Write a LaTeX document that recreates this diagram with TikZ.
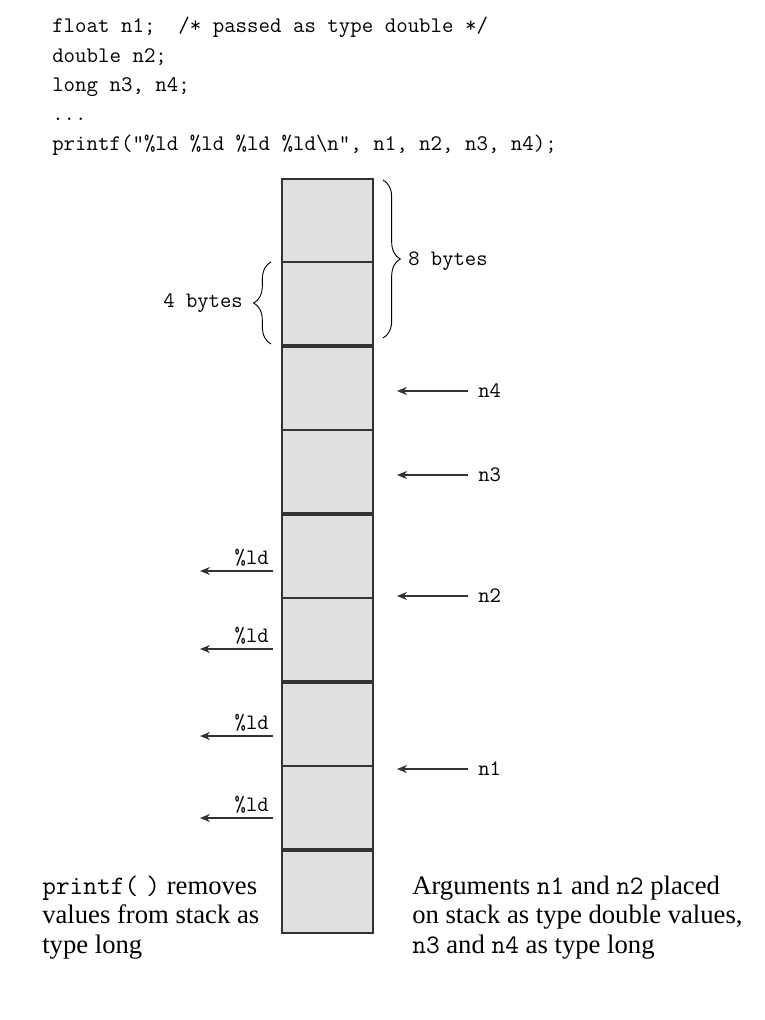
\documentclass[tikz,border=0pt]{standalone}
\usepackage{fontspec}
\setmainfont{Liberation Serif}
\usetikzlibrary{arrows.meta,decorations.pathreplacing}

\begin{document}
\begin{tikzpicture}[x=0.75pt, y=-0.75pt, >={Stealth[length=7.5pt,width=6pt]},
    group/.style={draw=black!80, line width=1.6pt, fill=black!12, minimum width=68.25pt, inner sep=0pt, outer sep=0pt, anchor=north west},
    sep/.style={draw=black!80, line width=1.3pt},
    code/.style={anchor=base west, inner sep=0pt, font=\ttfamily\fontsize{16.7}{20}\selectfont},
    lbl/.style={inner sep=0pt, font=\ttfamily\fontsize{16.5}{18}\selectfont},
    arg/.style={->, draw=black!80, line width=0.9pt},
    bracket/.style={decorate, decoration={brace, amplitude=13pt}, line width=0.7pt},
    note/.style={anchor=base west, inner sep=0pt, align=left, font=\fontsize{20}{22}\selectfont}]
    \useasboundingbox (0,0) rectangle (764,1020);

    % code lines
    \node[code] (l1) at (52,33) {float n1;\ \ /* passed as type double */};
    \node[code] (l2) at (52,63) {double n2;};
    \node[code] (l3) at (52,92) {long n3, n4;};
    \node[code] (l4) at (52,121) {...};
    \node[code] (l5) at (52,151) {printf(\symbol{34}\%ld \%ld \%ld \%ld\textbackslash n\symbol{34}, n1, n2, n3, n4);};

    % the stack
    \node[group, minimum height=124.5pt] (g1) at (282,179) {};
    \node[group, minimum height=124.5pt] (g2) at (282,347) {};
    \node[group, minimum height=124.5pt] (g3) at (282,515) {};
    \node[group, minimum height=124.5pt] (g4) at (282,683) {};
    \node[group, minimum height=61.5pt] (g5) at (282,851) {};
    \draw[sep] (g1.west) -- (g1.east);
    \draw[sep] (g2.west) -- (g2.east);
    \draw[sep] (g3.west) -- (g3.east);
    \draw[sep] (g4.west) -- (g4.east);

    % sizes
    \draw[bracket] (383,180) -- (383,338);
    \node[lbl, anchor=west] (b8) at (408,261) {8 bytes};
    \draw[bracket] (271,344) -- (271,262);
    \node[lbl, anchor=east] (b4) at (243,303) {4 bytes};

    % arguments pushed
    \node[lbl, anchor=west, inner xsep=7.5pt] (n4) at (468,391) {n4};
    \node[lbl, anchor=west, inner xsep=7.5pt] (n3) at (468,475) {n3};
    \node[lbl, anchor=west, inner xsep=7.5pt] (n2) at (468,596) {n2};
    \node[lbl, anchor=west, inner xsep=7.5pt] (n1) at (468,769) {n1};
    \coordinate (p4) at (397,391);
    \coordinate (p3) at (397,475);
    \coordinate (p2) at (397,596);
    \coordinate (p1) at (397,769);
    \draw[arg] (n4.west) -- (p4);
    \draw[arg] (n3.west) -- (p3);
    \draw[arg] (n2.west) -- (p2);
    \draw[arg] (n1.west) -- (p1);

    % values read by printf()
    \coordinate (r1) at (273,571);
    \coordinate (r2) at (273,649);
    \coordinate (r3) at (273,736);
    \coordinate (r4) at (273,818);
    \coordinate (q1) at (200,571);
    \coordinate (q2) at (200,649);
    \coordinate (q3) at (200,736);
    \coordinate (q4) at (200,818);
    \node[lbl, anchor=south east, inner xsep=3pt, inner ysep=3pt] (f1) at (r1) {\%ld};
    \node[lbl, anchor=south east, inner xsep=3pt, inner ysep=3pt] (f2) at (r2) {\%ld};
    \node[lbl, anchor=south east, inner xsep=3pt, inner ysep=3pt] (f3) at (r3) {\%ld};
    \node[lbl, anchor=south east, inner xsep=3pt, inner ysep=3pt] (f4) at (r4) {\%ld};
    \draw[arg] (r1) -- (q1);
    \draw[arg] (r2) -- (q2);
    \draw[arg] (r3) -- (q3);
    \draw[arg] (r4) -- (q4);

    % notes
    \node[note] (left) at (42,953) {\texttt{printf(\hspace{0.3em})} removes\\values from stack as\\type long};
    \node[note] (right) at (412,953) {Arguments \texttt{n1} and \texttt{n2} placed\\on stack as type double values,\\\texttt{n3} and \texttt{n4} as type long};
\end{tikzpicture}
\end{document}
